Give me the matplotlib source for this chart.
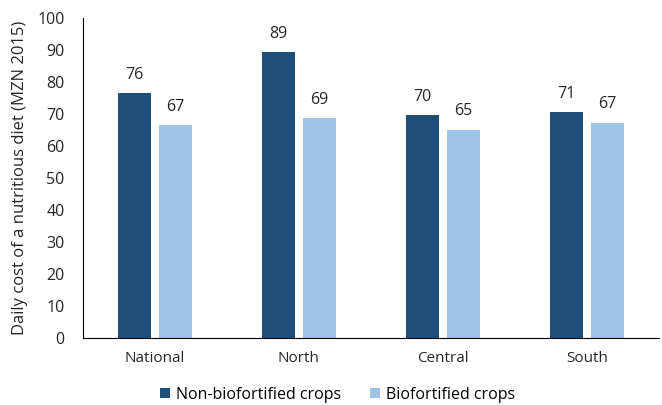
import matplotlib.pyplot as plt
import numpy as np

plt.rcParams['font.family'] = ['Open Sans', 'DejaVu Sans']

regions = ['National', 'North', 'Central', 'South']
non_bio = [76.4, 89.2, 69.6, 70.6]
bio = [66.6, 68.8, 65.1, 67.3]

dark = '#1F4E79'
light = '#9DC3E6'

fig = plt.figure(figsize=(6.62, 4.05), dpi=100)
ax = fig.add_axes([0.125, 0.165, 0.87, 0.791])

x = np.arange(len(regions))
w = 0.23
gap = 0.055
b1 = ax.bar(x - (w + gap) / 2, non_bio, w, color=dark, label='Non-biofortified crops')
b2 = ax.bar(x + (w + gap) / 2, bio, w, color=light, label='Biofortified crops')

for bars, vals in [(b1, non_bio), (b2, bio)]:
    for b, v in zip(bars, vals):
        ax.text(b.get_x() + b.get_width() / 2, v + 3.2, f'{int(v + 0.5)}',
                ha='center', va='bottom', fontsize=11.5, color='#262626')

ax.set_xlim(-0.5, 3.5)
ax.set_ylim(0, 100)
ax.set_yticks(range(0, 101, 10))
ax.set_xticks(x)
ax.set_xticklabels(regions)
ax.tick_params(axis='y', length=0, labelsize=11.5, colors='#262626', pad=13)
ax.tick_params(axis='x', length=0, labelsize=11, colors='#262626', pad=9)
ax.set_ylabel('Daily cost of a nutritious diet (MZN 2015)', fontsize=12, color='#262626', labelpad=7)

for s in ['top', 'right']:
    ax.spines[s].set_visible(False)
ax.spines['left'].set_color('black')
ax.spines['bottom'].set_color('black')

fig.legend(loc='lower center', bbox_to_anchor=(0.51, -0.03), ncol=2, frameon=False,
           fontsize=11.5, handlelength=0.6, handleheight=0.6, handletextpad=0.4,
           columnspacing=1.8)

fig.savefig('out.png', dpi=100)
